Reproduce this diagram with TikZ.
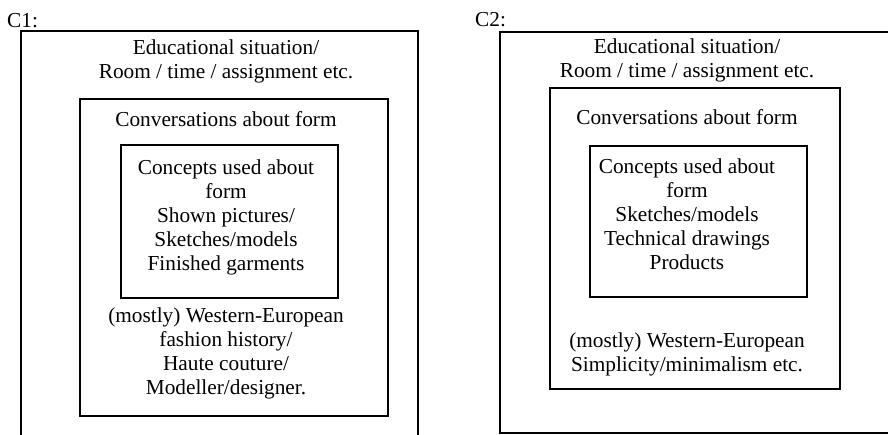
\documentclass[tikz,border=0pt]{standalone}
\usepackage{fontspec}
\setmainfont{Liberation Serif}
\begin{document}
\begin{tikzpicture}[x=1pt,y=-1pt,
  frame/.style={draw=black, line width=1.8pt, inner sep=0pt, rectangle},
  innerframe/.style={frame, line width=1.6pt},
  txt/.style={inner sep=0pt, align=center, font=\fontsize{21.3}{24}\selectfont}]
\useasboundingbox (0,0) rectangle (888,435);
\clip (0,0) rectangle (888,435);

% ---- C1 ----
\node[txt, anchor=base west] (c1lab) at (7,28) {C1:};
\node[frame, minimum width=397pt, minimum height=430pt] (c1outer) at (219.5,246) {};
\node[frame, minimum width=308pt, minimum height=317pt] (c1mid) at (234,257.5) {};
\node[innerframe, minimum width=217pt, minimum height=153pt] (c1inner) at (229.5,221.5) {};

\node[txt] (c1situ) at (226,61) {Educational situation/\\Room / time / assignment etc.};
\node[txt, anchor=base] (c1conv) at (226,127) {Conversations about form};
\node[txt] (c1conc) at (226,217.5) {Concepts used about\\form\\Shown pictures/\\Sketches/models\\Finished garments};
\node[txt] (c1hist) at (226,353.5) {(mostly) Western-European\\fashion history/\\Haute couture/\\Modeller/designer.};

% ---- C2 ----
\node[txt, anchor=base west] (c2lab) at (475,27) {C2:};
\node[frame, minimum width=430pt, minimum height=401pt] (c2outer) at (715,232.5) {};
\node[frame, minimum width=290pt, minimum height=301pt] (c2mid) at (695,238.5) {};
\node[innerframe, minimum width=217pt, minimum height=151pt] (c2inner) at (698.5,221.5) {};

\node[txt] (c2situ) at (687,60.5) {Educational situation/\\Room / time / assignment etc.};
\node[txt, anchor=base] (c2conv) at (687,125) {Conversations about form};
\node[txt] (c2conc) at (687,214.5) {Concepts used about\\form\\Sketches/models\\Technical drawings\\Products};
\node[txt] (c2hist) at (687,354.5) {(mostly) Western-European\\Simplicity/minimalism etc.};
\end{tikzpicture}
\end{document}
